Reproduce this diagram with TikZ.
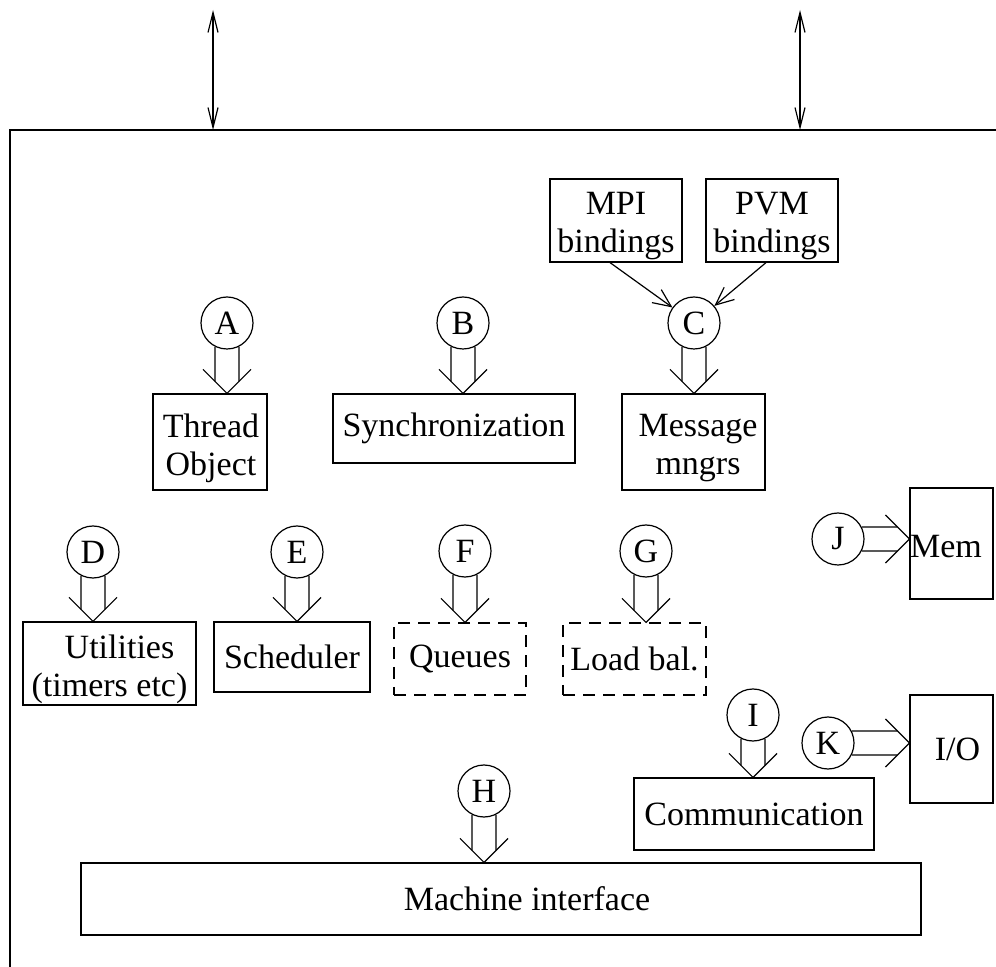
\documentclass[tikz,border=0pt]{standalone}
\usepackage{fontspec}
\setmainfont{Liberation Serif}
\usetikzlibrary{arrows.meta,calc}

% hollow double-line arrow from a lettered circle down onto a box
\newcommand\pairdown[2]{%
  \coordinate (#1tip) at (#1.center |- #2.north);
  \draw (#1.243) -- ($(#1tip)+(-12,-12)$);
  \draw (#1.297) -- ($(#1tip)+(12,-12)$);
  \draw ($(#1tip)+(-24,-24)$) -- (#1tip) -- ($(#1tip)+(24,-24)$);
}
% the same arrow pointing right, onto the west side of a box
\newcommand\pairright[2]{%
  \coordinate (#1tip) at (#2.west |- #1.center);
  \draw (#1.27) -- ($(#1tip)+(-12,-12)$);
  \draw (#1.333) -- ($(#1tip)+(-12,12)$);
  \draw ($(#1tip)+(-24,-24)$) -- (#1tip) -- ($(#1tip)+(-24,24)$);
}

\begin{document}
\begin{tikzpicture}[x=0.5pt,y=-0.5pt,line width=0.6pt,
  every node/.style={font=\fontsize{17}{19}\selectfont},
  box/.style={draw,inner sep=0pt,align=center},
  dbox/.style={box,dash pattern=on 6pt off 4pt},
  lbl/.style={inner sep=0pt,align=center},
  sz/.style 2 args={minimum width=#1pt,minimum height=#2pt},
  circ/.style={draw,circle,minimum size=26pt,inner sep=0pt},
  link/.style={-{Straight Barb[length=9pt,width=8pt]}},
  port/.style={{Straight Barb[length=10pt,width=5pt]}-{Straight Barb[length=10pt,width=5pt]}}]
\useasboundingbox (0,0) rectangle (996,967);

% enclosing frame (open at right and bottom)
\draw (10,967) -- (10,130) -- (996,130);

% external links through the top of the frame
\coordinate (ext1) at (213,10);  \coordinate (in1) at (213,130);
\coordinate (ext2) at (800,10);  \coordinate (in2) at (800,130);
\draw[port] (ext1) -- (in1);
\draw[port] (ext2) -- (in2);

% bindings
\node[box,sz={66}{41.5}] (mpi) at (616,220.5) {};
\node[lbl] (mpitxt) at (616,226) {MPI\\bindings};
\node[box,sz={66}{41.5}] (pvm) at (772,220.5) {};
\node[lbl] (pvmtxt) at (772,226) {PVM\\bindings};

% component boxes
\node[box,sz={57}{48}]      (thread) at (210,442)   {};
\node[lbl] (threadtxt) at (211,448) {Thread\\Object};
\node[box,sz={121}{34.5}]   (sync)   at (454,428.5) {Synchronization};
\node[box,sz={71.5}{48}]    (msg)    at (693.5,442) {};
\node[lbl] (msgtxt) at (698,448) {Message\\mngrs};
\node[box,sz={86.5}{41.5}]  (util)   at (109.5,663.5) {};
\node[lbl] (utiltxt) at (109.5,669) {\hspace*{10pt}Utilities\\(timers etc)};
\node[box,sz={78}{35}]      (sched)  at (292,657)   {Scheduler};
\node[dbox,sz={66}{36}]     (queues) at (460,659)   {Queues};
\node[dbox,sz={71.5}{36}]   (load)   at (634.5,659) {Load bal.};
\node[box,sz={41.5}{55.5}]  (mem)    at (951.5,543.5) {};
\node[lbl] (memtxt) at (946,547) {Mem};
\node[box,sz={41.5}{54}]    (io)     at (951.5,749) {\hspace*{6pt}I/O};
\node[box,sz={120}{36}]     (comm)   at (754,814)   {Communication};
\node[box,sz={420}{36}]     (mach)   at (501,899)   {\hspace*{26pt}Machine interface};

% interface circles
\node[circ] (A) at (227,323) {A};
\node[circ] (B) at (463,323) {B};
\node[circ] (C) at (694,323) {C};
\node[circ] (D) at (93,552) {D};
\node[circ] (E) at (297,552) {E};
\node[circ] (F) at (465,551) {F};
\node[circ] (G) at (646,551) {G};
\node[circ] (H) at (484,791) {H};
\node[circ] (I) at (753,715) {I};
\node[circ] (J) at (838,539) {J};
\node[circ] (K) at (828,743) {K};

% bindings feed interface C
\draw[link] ([xshift=-3pt]mpi.south) -- (C);
\draw[link] ([xshift=-3pt]pvm.south) -- (C);

% interfaces onto their components
\pairdown{A}{thread}
\pairdown{B}{sync}
\pairdown{C}{msg}
\pairdown{D}{util}
\pairdown{E}{sched}
\pairdown{F}{queues}
\pairdown{G}{load}
\pairdown{H}{mach}
\pairdown{I}{comm}
\pairright{J}{mem}
\pairright{K}{io}
\end{tikzpicture}
\end{document}
